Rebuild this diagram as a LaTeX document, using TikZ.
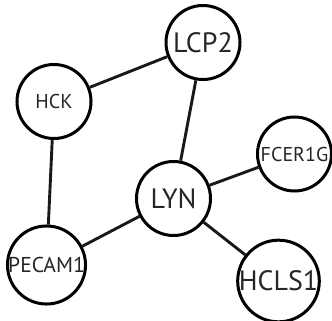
\documentclass[tikz,border=0pt]{standalone}
\usepackage{fontspec}
\setmainfont{PT Sans}
\begin{document}
\begin{tikzpicture}[x=1pt,y=-1pt,
  gene/.style={circle,draw=black,line width=3pt,fill=white,minimum size=74pt,inner sep=0pt,text=black!85},
  link/.style={line width=2.9pt,draw=black!90}]
\useasboundingbox (0,0) rectangle (332,321);
% nodes of the interaction network
\node[gene,font=\fontsize{28}{28}\selectfont] (lcp2) at (203,42.5) {LCP2};
\node[gene,font=\fontsize{20}{20}\selectfont] (hck) at (54,101.5) {HCK};
\node[gene,font=\fontsize{20}{20}\selectfont] (fcer) at (294.5,154) {FCER1G};
\node[gene,font=\fontsize{28}{28}\selectfont] (lyn) at (173.5,198.5) {LYN};
\node[gene,font=\fontsize{21.5}{22}\selectfont] (pecam) at (46.5,265) {PECAM1};
\node[gene,font=\fontsize{28}{28}\selectfont] (hcls) at (278.5,281) {HCLS1};
% interactions
\draw[link] (hck) -- (lcp2);
\draw[link] (lcp2) -- (lyn);
\draw[link] (hck) -- (pecam);
\draw[link] (pecam) -- (lyn);
\draw[link] (lyn) -- (fcer);
\draw[link] (lyn) -- (hcls);
\end{tikzpicture}
\end{document}
